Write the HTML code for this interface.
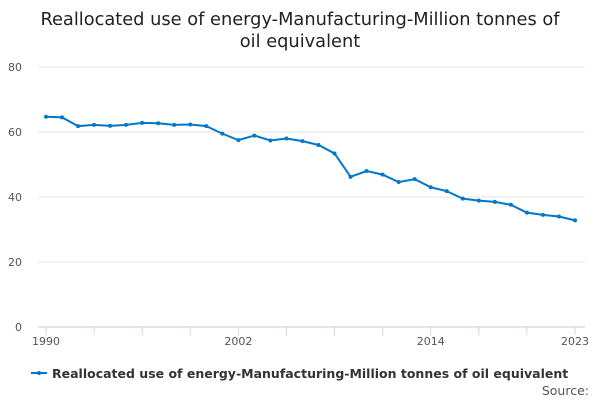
<!DOCTYPE html>
<html><head><meta charset="utf-8"><style>
body{margin:0;width:600px;height:400px;background:#fff;font-family:"DejaVu Sans","Liberation Sans",sans-serif;overflow:hidden}
</style></head><body>
<svg width="600" height="400" id="c" font-family="DejaVu Sans, Liberation Sans, sans-serif">
<text x="300" y="25" text-anchor="middle" font-size="17.8" fill="#222">Reallocated use of energy-Manufacturing-Million tonnes of</text>
<text x="300" y="47" text-anchor="middle" font-size="17.8" fill="#222">oil equivalent</text>
<g id="grid"></g><g id="xa"></g><g id="series"></g>
<g>
<line x1="31" y1="373" x2="47" y2="373" stroke="#0077c8" stroke-width="2"/>
<circle cx="39" cy="373" r="2" fill="#0077c8"/>
<text x="52" y="378" font-size="12.5" font-weight="bold" fill="#333">Reallocated use of energy-Manufacturing-Million tonnes of oil equivalent</text>
</g>
<text x="589" y="395" text-anchor="end" font-size="12.5" fill="#555">Source:</text>
</svg>
<script>
const years=[1990,1991,1992,1993,1994,1995,1996,1997,1998,1999,2000,2001,2002,2003,2004,2005,2006,2007,2008,2009,2010,2011,2012,2013,2014,2015,2016,2017,2018,2019,2020,2021,2022,2023];
const values=[64.7,64.5,61.8,62.2,61.9,62.2,62.8,62.7,62.2,62.3,61.8,59.5,57.5,58.9,57.4,58,57.2,56,53.4,46.2,48,46.9,44.6,45.5,43,41.8,39.5,38.9,38.5,37.6,35.2,34.5,34,32.8];
const yTicks=[0,20,40,60,80];
const xLabels=[1990,2002,2014,2023];
const ns="http://www.w3.org/2000/svg";
const X=y=>46+(y-1990)*(575-46)/33;
const Y=v=>327-v*3.25;
function mk(t,a,p){const e=document.createElementNS(ns,t);for(const k in a)e.setAttribute(k,a[k]);p.appendChild(e);return e;}
const grid=document.getElementById('grid'),xa=document.getElementById('xa'),se=document.getElementById('series');
yTicks.forEach(t=>{
 const l=mk('line',{x1:38,x2:585,y1:Y(t),y2:Y(t),stroke:t===0?'#ccc':'#e6e6e6'},grid);
 
 
 const tx=mk('text',{x:22,y:Y(t)+4,'text-anchor':'end','font-size':11,fill:'#555'},grid);
 tx.textContent=t;
 
 
});
for(let y=1990;y<=2023;y+=3){
 const yy=y>2020?2023:y;
 const l=mk('line',{x1:X(yy),x2:X(yy),y1:327,y2:335,stroke:'#ccd6eb'},xa);
 
 
}
xLabels.forEach(y=>{
 const t=mk('text',{x:X(y),y:345,'text-anchor':'middle','font-size':11,fill:'#555'},xa);
 t.textContent=y;
 
 
});
const path=mk('polyline',{points:years.map((y,i)=>X(y)+','+Y(values[i])).join(' '),fill:'none',stroke:'#0077c8','stroke-width':2},se);


years.forEach((y,i)=>{
 const c=mk('circle',{cx:X(y),cy:Y(values[i]),r:2,fill:'#0077c8'},se);
 
 
});
</script>
</body></html>
